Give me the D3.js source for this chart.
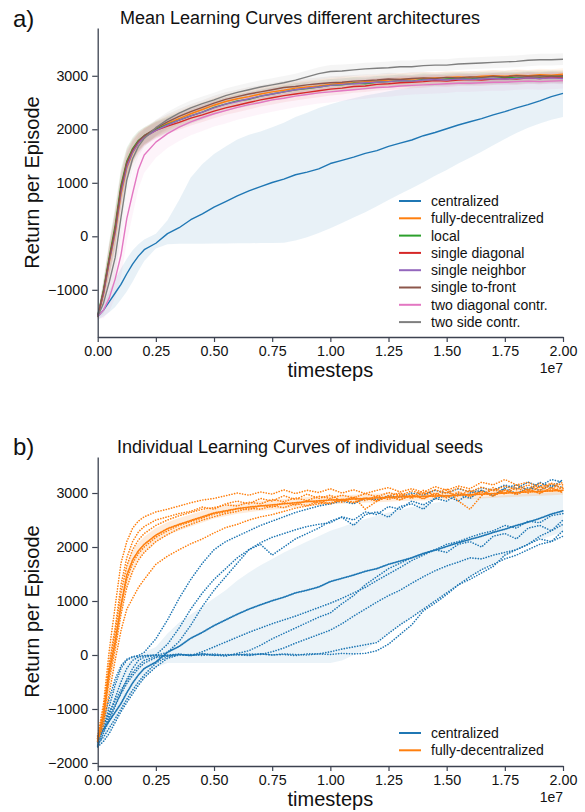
<!DOCTYPE html>
<html><head><meta charset="utf-8">
<script src="https://cdn.jsdelivr.net/npm/d3@7"></script>
<style>
body{margin:0;background:#fff}
svg{display:block}
text{font-family:"Liberation Sans",Arial,Helvetica,sans-serif}
</style>
</head><body>
<svg id="c" width="585" height="812"></svg>
<script>
// ---------- DATA (timesteps in units of 1e7) ----------
const T = [0,0.025,0.05,0.075,0.1,0.125,0.15,0.175,0.2,
  0.25,0.3,0.35,0.4,0.45,0.5,0.55,0.6,0.65,0.7,0.75,0.8,0.85,0.9,0.95,1.0,1.05,1.1,1.15,1.2,
  1.25,1.3,1.35,1.4,1.45,1.5,1.55,1.6,1.65,1.7,1.75,1.8,1.85,1.9,1.95,2.0];
const X_TICKS = [0,0.25,0.5,0.75,1.0,1.25,1.5,1.75,2.0];
const Y_TICKS_A = [-1000,0,1000,2000,3000];
const Y_TICKS_B = [-2000,-1000,0,1000,2000,3000];
const SERIES_NAMES = ["centralized","fully-decentralized","local","single diagonal","single neighbor","single to-front","two diagonal contr.","two side contr."];
const SERIES_COLORS = ["#1f77b4","#ff7f0e","#2ca02c","#d62728","#9467bd","#8c564b","#e377c2","#7f7f7f"];

// panel a) mean curves
const centralized = [-1500,-1380,-1220,-1060,-900,-700,-520,-370,-250,
  -130,50,160,310,420,545,650,755,850,930,1005,1070,1150,1200,1260,1360,1420,1480,1550,1600,
  1680,1740,1800,1880,1940,2010,2080,2140,2200,2270,2330,2400,2460,2530,2610,2670];
const centralizedLow = [-1560,-1500,-1420,-1320,-1180,-1030,-850,-650,-460,
  -230,-150,-140,-140,-140,-135,-135,-130,-130,-125,-125,-120,-80,-20,60,150,250,350,450,560,
  680,790,900,1010,1130,1240,1360,1470,1580,1700,1820,1930,2030,2110,2180,2230];
const centralizedHigh = [-1440,-1260,-1020,-800,-600,-420,-260,-150,-60,
  50,300,680,1100,1350,1540,1680,1810,1900,1960,2040,2120,2230,2310,2400,2470,2530,2580,2630,2670,
  2710,2750,2780,2810,2840,2860,2880,2900,2910,2920,2930,2940,2950,2960,2970,2980];
const fullyDecentralized = [-1510,-1080,-480,50,780,1280,1560,1740,1860,
  2000,2110,2200,2290,2370,2450,2520,2570,2610,2660,2700,2730,2770,2790,2810,2840,2860,2870,2890,2900,
  2920,2930,2940,2950,2960,2970,2980,2970,2990,3000,2990,3010,3000,3020,3010,3030];
const local = [-1480,-1000,-380,200,950,1400,1640,1790,1880,
  2000,2090,2170,2250,2320,2410,2470,2530,2560,2620,2660,2700,2740,2760,2790,2820,2830,2860,2850,2880,
  2890,2910,2900,2930,2920,2940,2950,2940,2960,2950,2970,2960,2980,2970,2990,2980];
const singleDiagonal = [-1500,-1050,-430,130,880,1350,1600,1760,1860,
  1980,2060,2130,2210,2270,2340,2400,2450,2500,2550,2590,2630,2660,2690,2720,2750,2770,2800,2810,2840,
  2850,2870,2880,2890,2910,2900,2920,2930,2920,2940,2950,2940,2960,2950,2970,2960];
const singleNeighbor = [-1490,-1060,-460,80,820,1300,1570,1740,1850,
  1980,2080,2170,2250,2320,2400,2470,2520,2570,2620,2660,2700,2740,2770,2790,2820,2840,2850,2870,2880,
  2890,2910,2900,2920,2930,2920,2940,2930,2940,2950,2940,2950,2960,2950,2960,2950];
const singleToFront = [-1500,-1020,-420,140,900,1380,1620,1780,1880,
  2020,2140,2240,2330,2410,2490,2560,2610,2660,2700,2740,2780,2800,2830,2850,2870,2880,2900,2910,2920,
  2940,2930,2950,2960,2950,2970,2960,2980,2970,2990,2980,3000,2990,3000,2990,3000];
const twoDiagonal = [-1500,-1380,-1150,-800,-350,330,800,1250,1520,
  1760,1920,2040,2140,2220,2290,2350,2410,2460,2500,2550,2580,2620,2650,2680,2700,2720,2740,2760,2780,
  2790,2810,2820,2830,2840,2850,2860,2860,2870,2880,2880,2890,2900,2890,2900,2910];
const twoSide = [-1500,-1250,-850,-400,350,1050,1450,1680,1830,
  2030,2180,2300,2400,2480,2550,2630,2690,2740,2790,2830,2870,2920,2980,3040,3080,3090,3110,3130,3140,
  3150,3170,3170,3190,3200,3200,3220,3230,3240,3250,3260,3270,3290,3300,3300,3310];
const packSpread = [40,200,300,350,320,260,210,180,160,
  150,145,140,140,135,135,130,130,130,125,125,125,120,120,120,120,120,115,115,115,
  115,115,115,115,110,110,110,110,110,110,110,110,110,110,110,110];
const pinkSpread = [40,150,250,350,420,430,400,360,330,
  290,270,260,250,250,240,240,230,230,220,220,210,210,200,200,200,190,190,190,180,
  180,180,170,170,170,170,160,160,160,160,160,150,150,150,150,150];

// panel b) individual seeds
const decMeanB = [-1550,-1120,-280,250,920,1480,1760,1930,2050,
  2220,2340,2420,2490,2560,2630,2670,2710,2740,2760,2780,2800,2820,2840,2855,2870,2880,2890,2900,2910,
  2920,2930,2935,2940,2945,2950,2960,2970,2980,2990,3000,3010,3020,3030,3040,3050];
const decSpreadB = [50,250,350,300,250,200,170,150,140,
  130,120,115,110,105,100,100,95,95,90,90,90,85,85,85,80,80,80,80,80,
  80,80,80,80,80,80,80,80,80,80,80,80,80,80,80,80];
const decSeed1 = [-1500,-900,100,900,1700,2100,2350,2480,2560,
  2650,2700,2760,2820,2870,2900,2950,3000,2960,3020,2980,3060,2990,3050,3010,3080,3000,3060,2990,3050,
  3100,3020,3080,3010,3120,3050,3130,3080,3200,3150,3250,3150,3200,3100,3180,3150];
const decSeed2 = [-1600,-1300,-700,-100,450,850,1050,1250,1400,
  1680,1830,1950,2060,2150,2260,2360,2420,2500,2560,2600,2660,2720,2760,2800,2820,2870,2820,2900,2860,
  2930,2880,2960,2900,2980,2920,3000,2950,3020,2940,3050,2980,3060,3000,3080,3020];
const decSeed3 = [-1550,-1050,-200,400,1150,1650,1950,2130,2250,
  2400,2500,2580,2640,2700,2730,2780,2760,2830,2800,2880,2840,2910,2860,2940,2900,2960,2910,2990,2930,
  3010,2950,3040,2980,3060,3000,3090,3020,3110,3040,3130,3060,3150,3050,3170,3080];
const decSeed4 = [-1560,-1150,-350,200,900,1400,1700,1880,2000,
  2180,2300,2400,2470,2540,2610,2650,2710,2690,2770,2740,2820,2780,2860,2810,2890,2830,2920,2860,2950,
  2880,2970,2900,3000,2920,3020,2940,3050,2960,3070,2980,3100,3000,3120,3030,3110];
const decSeed5 = [-1580,-1200,-450,100,750,1250,1550,1760,1900,
  2100,2230,2340,2420,2500,2560,2620,2660,2720,2700,2760,2730,2800,2770,2840,2800,2880,2830,2910,2850,
  2940,2870,2970,2890,3000,2910,3020,2930,3040,2950,3060,2970,3080,2990,3100,3000];
const decSeed6 = [-1540,-1000,-150,500,1300,1800,2100,2280,2380,
  2500,2560,2620,2660,2740,2700,2800,2850,2800,2900,2850,2950,2880,2980,2900,2960,2850,2930,2700,2850,
  2950,3000,2920,3050,2960,3080,2850,2700,2950,3100,3000,3150,3050,3180,3080,3200];
const cenSeed1 = [-1620,-1200,-800,-450,-200,-80,-30,-10,50,
  300,650,1050,1400,1700,1950,2100,2200,2300,2400,2480,2560,2640,2700,2760,2800,2850,2800,2900,2880,
  2950,2920,3000,2960,3050,3000,3080,3020,3100,3050,3150,3080,3200,3120,3250,3200];
const cenSeed2 = [-1600,-1400,-1100,-800,-500,-250,-100,-40,-20,
  0,200,500,850,1150,1400,1600,1800,1950,2080,2180,2250,2320,2380,2420,2450,2560,2500,2650,2600,
  2750,2700,2850,2780,2900,2850,2980,2900,3050,2950,3080,2990,3100,3050,3150,3100];
const cenSeed3 = [-1680,-1450,-1200,-950,-700,-450,-250,-100,-40,
  -10,50,250,550,900,1200,1450,1700,1950,2050,1850,2000,2150,2250,2350,2480,2550,2400,2600,2650,
  2550,2750,2800,2700,2900,2950,2850,3000,3050,2950,3100,3150,3050,3200,3100,3250];
const cenSeed4 = [-1550,-1300,-1050,-850,-650,-480,-330,-200,-100,
  -30,0,20,-10,60,150,240,330,420,500,580,650,720,800,880,960,1050,1150,1250,1380,
  1500,1620,1750,1850,1950,2050,2100,2180,2250,2300,2400,2350,2480,2450,2580,2620];
const cenSeed5 = [-1650,-1520,-1350,-1180,-1000,-820,-650,-500,-370,
  -150,-30,10,-10,20,0,-20,30,80,180,300,400,500,600,700,780,950,1100,1300,1450,
  1600,1700,1800,1880,1950,1900,2050,2100,2000,2200,2250,2150,2350,2400,2300,2500];
const cenSeed6 = [-1700,-1350,-950,-550,-250,-100,-40,-20,-10,
  0,-20,10,-10,20,-10,10,0,20,10,60,130,220,300,380,460,580,720,850,980,
  1100,1200,1330,1450,1560,1650,1720,1800,1780,1850,1900,1950,2050,2150,2100,2300];
const cenSeed7 = [-1600,-1380,-1150,-920,-720,-530,-380,-250,-150,
  -50,-10,10,-10,20,0,-10,10,0,20,0,10,-10,20,20,60,110,150,190,230,
  400,560,700,850,1000,1150,1300,1450,1580,1680,1780,1850,1950,2050,2100,2200];
const cenSeed8 = [-1700,-1600,-1450,-1250,-1050,-880,-720,-560,-420,
  -220,-60,0,10,-10,20,0,10,-10,20,0,20,10,0,20,10,30,20,30,80,
  200,380,560,820,960,1120,1300,1400,1520,1640,1850,1950,2050,2200,2300,2420];
const cenLowB = [-1700,-1600,-1450,-1250,-1050,-880,-720,-560,-430,
  -230,-150,-150,-150,-150,-150,-150,-150,-150,-150,-150,-150,-150,-150,-150,-150,-100,0,100,250,
  400,550,700,850,1000,1150,1300,1450,1580,1700,1820,1940,2040,2130,2210,2280];
const cenHighB = [-1450,-1200,-850,-550,-300,-150,-60,0,50,
  150,400,600,750,900,1050,1200,1380,1530,1660,1780,1900,2000,2100,2200,2300,2370,2450,2520,2580,
  2640,2690,2740,2780,2820,2850,2880,2900,2920,2940,2960,2980,2990,3000,3010,3020];

// ---------- DRAWING ----------
const svg = d3.select("#c");
const X0 = 97.7, X1 = 563;
const x = d3.scaleLinear().domain([0, 2]).range([X0, X1]);
const AXC = "#3c4250";

function axes(g, y, top, bottom, yTicks) {
  const xa = d3.axisBottom(x).tickValues(X_TICKS).tickFormat(d3.format(".2f"))
    .tickSize(5).tickSizeOuter(0).tickPadding(4);
  const gx = g.append("g").attr("transform", `translate(0,${bottom})`).call(xa);
  const ya = d3.axisLeft(y).tickValues(yTicks)
    .tickFormat(d => d < 0 ? "\u2212" + Math.abs(d) : String(d))
    .tickSize(5.5).tickSizeOuter(0).tickPadding(4);
  const gy = g.append("g").attr("transform", `translate(${X0},0)`).call(ya);
  [gx, gy].forEach(a => {
    a.select(".domain").attr("stroke", AXC).attr("stroke-width", 1.3);
    a.selectAll(".tick line").attr("stroke", AXC).attr("stroke-width", 1.2);
    a.selectAll(".tick text").attr("fill", "#111").style("font-size", "14.3px")
      .style("font-family", '"Liberation Sans",Arial,sans-serif');
  });
}

function texts(g, top, bottom, letter, title, letterY, titleY) {
  g.append("text").attr("x", 13).attr("y", letterY).style("font-size", "24px").attr("fill", "#111").text(letter);
  g.append("text").attr("x", 300).attr("y", titleY).attr("text-anchor", "middle")
    .style("font-size", "18px").attr("fill", "#111").text(title);
  g.append("text").attr("transform", `translate(39,${(top + bottom) / 2}) rotate(-90)`)
    .attr("text-anchor", "middle").style("font-size", "20px").attr("fill", "#111").text("Return per Episode");
  g.append("text").attr("x", (X0 + X1) / 2).attr("y", bottom + 40).attr("text-anchor", "middle")
    .style("font-size", "20px").attr("fill", "#111").text("timesteps");
  g.append("text").attr("x", X1).attr("y", bottom + 36).attr("text-anchor", "end")
    .style("font-size", "14px").attr("fill", "#111").text("1e7");
}

function legend(g, names, colors, y0, step) {
  names.forEach((n, i) => {
    const yy = y0 + i * step;
    g.append("line").attr("x1", 399).attr("x2", 421).attr("y1", yy).attr("y2", yy)
      .attr("stroke", colors[i]).attr("stroke-width", 2);
    g.append("text").attr("x", 431).attr("y", yy).attr("dy", "0.35em")
      .style("font-size", "14px").attr("fill", "#111").text(n);
  });
}

// ---- Panel a ----
{
  const top = 28, bottom = 337;
  const y = d3.scaleLinear().domain([-1882, 3893]).range([bottom, top]);
  const g = svg.append("g");
  const line = d3.line().x((d, i) => x(T[i])).y(d => y(d));
  const bandLH = (lo, hi) => d3.area().x((d, i) => x(T[i])).y0((d, i) => y(lo[i])).y1((d, i) => y(hi[i]))(T);
  const bandS = (m, s) => d3.area().x((d, i) => x(T[i])).y0((d, i) => y(m[i] - s[i])).y1((d, i) => y(m[i] + s[i]))(T);

  const means = [centralized, fullyDecentralized, local, singleDiagonal, singleNeighbor, singleToFront, twoDiagonal, twoSide];
  g.append("path").attr("d", bandLH(centralizedLow, centralizedHigh)).attr("fill", SERIES_COLORS[0]).attr("fill-opacity", 0.1);
  for (let k = 1; k < means.length; k++) {
    const s = (k === 6) ? pinkSpread : packSpread;
    g.append("path").attr("d", bandS(means[k], s)).attr("fill", SERIES_COLORS[k]).attr("fill-opacity", 0.08);
  }
  means.forEach((m, k) => {
    g.append("path").attr("d", line(m)).attr("fill", "none")
      .attr("stroke", SERIES_COLORS[k]).attr("stroke-width", 1.4).attr("stroke-linejoin", "round");
  });
  axes(g, y, top, bottom, Y_TICKS_A);
  texts(g, top, bottom, "a)", "Mean Learning Curves different architectures", 27, 24);
  legend(g, SERIES_NAMES, SERIES_COLORS, 201, 17.3);
}

// ---- Panel b ----
{
  const top = 457, bottom = 766;
  const y = d3.scaleLinear().domain([-2056, 3667]).range([bottom, top]);
  const g = svg.append("g");
  const line = d3.line().x((d, i) => x(T[i])).y(d => y(d));
  const bandLH = (lo, hi) => d3.area().x((d, i) => x(T[i])).y0((d, i) => y(lo[i])).y1((d, i) => y(hi[i]))(T);
  const bandS = (m, s) => d3.area().x((d, i) => x(T[i])).y0((d, i) => y(m[i] - s[i])).y1((d, i) => y(m[i] + s[i]))(T);

  g.append("path").attr("d", bandLH(cenLowB, cenHighB)).attr("fill", SERIES_COLORS[0]).attr("fill-opacity", 0.09);
  g.append("path").attr("d", bandS(decMeanB, decSpreadB)).attr("fill", SERIES_COLORS[1]).attr("fill-opacity", 0.15);

  const dotted = (data, color, dash, w) => g.append("path").attr("d", line(data)).attr("fill", "none")
    .attr("stroke", color).attr("stroke-width", w).attr("stroke-linecap", "round")
    .attr("stroke-dasharray", dash);

  [cenSeed1, cenSeed2, cenSeed3, cenSeed4, cenSeed5, cenSeed6, cenSeed7, cenSeed8]
    .forEach(s => dotted(s, SERIES_COLORS[0], "0.1 2.6", 1.6));
  dotted(centralized, SERIES_COLORS[0], "0.1 1.6", 1.8);
  [decSeed1, decSeed2, decSeed3, decSeed4, decSeed5, decSeed6]
    .forEach(s => dotted(s, SERIES_COLORS[1], "0.1 2.6", 1.6));
  dotted(decMeanB, SERIES_COLORS[1], "0.1 1.6", 1.8);

  axes(g, y, top, bottom, Y_TICKS_B);
  texts(g, top, bottom, "b)", "Individual Learning Curves of individual seeds", 455, 453);
  legend(g, SERIES_NAMES.slice(0, 2), SERIES_COLORS.slice(0, 2), 733, 17.3);
}
</script>
</body></html>
